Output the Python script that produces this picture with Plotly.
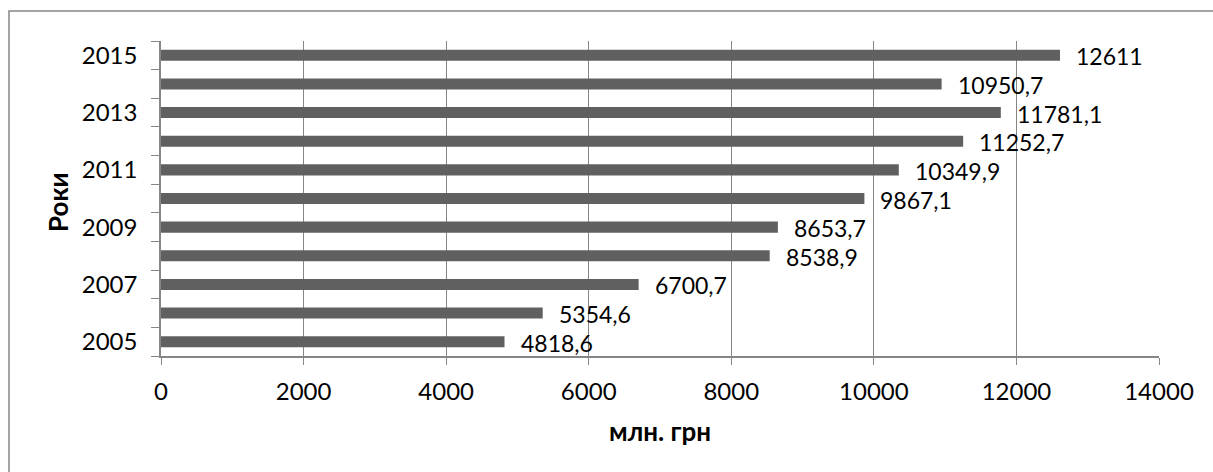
import plotly.graph_objects as go

years = ["2005", "2006", "2007", "2008", "2009", "2010", "2011", "2012", "2013", "2014", "2015"]
values = [4818.6, 5354.6, 6700.7, 8538.9, 8653.7, 9867.1, 10349.9, 11252.7, 11781.1, 10950.7, 12611]
value_labels = ["4818,6", "5354,6", "6700,7", "8538,9", "8653,7", "9867,1", "10349,9", "11252,7", "11781,1", "10950,7", "12611"]
year_tick_text = ["2005", "", "2007", "", "2009", "", "2011", "", "2013", "", "2015"]
x_ticks = [0, 2000, 4000, 6000, 8000, 10000, 12000, 14000]

FONT = "Lato"
LINE = "#868686"
W, H = 1213, 472
L, R, T, B = 161, 54, 41, 116
PW, PH = W - L - R, H - T - B


def px_x(p):
    return (p - L) / PW


def px_y(p):
    return (H - B - p) / PH


fig = go.Figure()
fig.add_trace(go.Bar(
    x=values, y=years, orientation="h",
    marker=dict(color="#606060", line=dict(width=0)),
    hoverinfo="skip",
))

annotations = []
for i, (v, lab) in enumerate(zip(values, value_labels)):
    annotations.append(dict(
        x=v, y=i, xref="x", yref="y", text=lab, showarrow=False,
        xanchor="left", yanchor="middle", xshift=14, yshift=-1,
        font=dict(family=FONT, size=23, color="#000000"),
    ))

annotations.append(dict(
    x=px_x(58), y=px_y(202), xref="paper", yref="paper", text="<b>Роки</b>",
    showarrow=False, textangle=-90, xanchor="center", yanchor="middle",
    font=dict(family=FONT, size=26, color="#000000"),
))
annotations.append(dict(
    x=px_x(660), y=px_y(431), xref="paper", yref="paper", text="<b>млн. грн</b>",
    showarrow=False, xanchor="center", yanchor="middle",
    font=dict(family=FONT, size=26, color="#000000"),
))

fig.update_layout(
    width=W, height=H,
    margin=dict(l=L, r=R, t=T, b=B, pad=0),
    paper_bgcolor="white", plot_bgcolor="white",
    bargap=0.615,
    showlegend=False,
    annotations=annotations,
    shapes=[dict(
        type="rect", xref="paper", yref="paper",
        x0=px_x(9), x1=px_x(1260), y0=px_y(500), y1=px_y(11),
        line=dict(color=LINE, width=1.5), fillcolor="rgba(0,0,0,0)", layer="below",
    )],
    xaxis=dict(
        range=[0, 14000], tickvals=x_ticks, ticktext=[str(t) for t in x_ticks],
        showgrid=True, gridcolor=LINE, gridwidth=1.3,
        showline=True, linecolor=LINE, linewidth=1.5,
        ticks="outside", ticklen=7, tickcolor=LINE, tickwidth=1.3,
        ticklabelstandoff=6,
        tickfont=dict(family=FONT, size=24, color="#000000"),
        zeroline=False, fixedrange=True,
    ),
    yaxis=dict(
        type="category", categoryorder="array", categoryarray=years,
        tickvals=years, ticktext=year_tick_text,
        tickson="boundaries", range=[-0.5, 10.5],
        showgrid=False, showline=True, linecolor=LINE, linewidth=1.5,
        ticks="outside", ticklen=8, tickcolor=LINE, tickwidth=1.3,
        ticklabelstandoff=17,
        tickfont=dict(family=FONT, size=24, color="#000000"),
        zeroline=False, fixedrange=True,
    ),
)

fig.write_html("out.html", config={"displayModeBar": False},
               post_script="document.body.style.margin='0';")
